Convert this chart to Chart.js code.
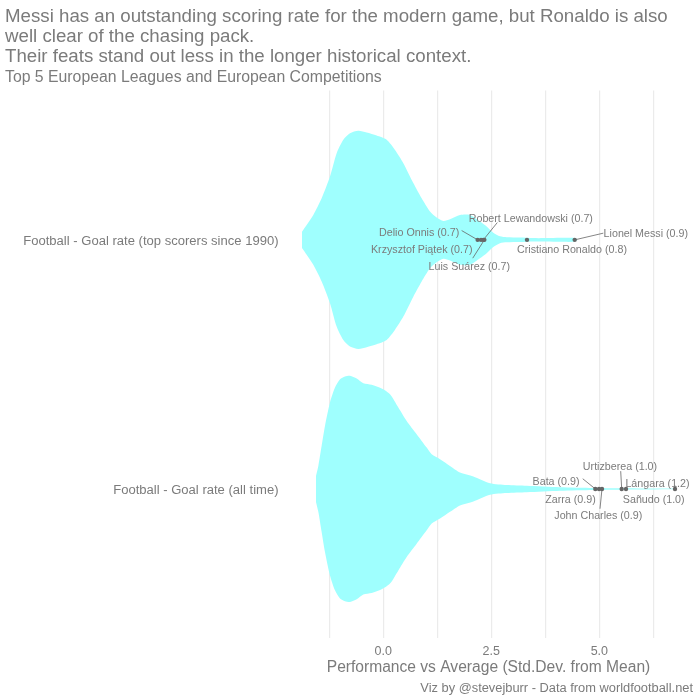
<!doctype html>
<html lang="en">

<head>
  <meta charset="utf-8">
  <title>Messi and Ronaldo goal rate</title>
  <style>
    * {
      margin: 0;
      padding: 0;
    }

    body {
      background: #fff;
    }

    canvas {
      display: block;
    }
  </style>
</head>

<body>
  <canvas id="myChart" width="700" height="700" style="width:700px;height:700px"></canvas>

  <script src="https://cdn.jsdelivr.net/npm/chart.js"></script>

  <script>
    const titleLines = [
      'Messi has an outstanding scoring rate for the modern game, but Ronaldo is also',
      'well clear of the chasing pack.',
      'Their feats stand out less in the longer historical context.'
    ];
    const subtitleText = 'Top 5 European Leagues and European Competitions';
    const xAxisTitle = 'Performance vs Average (Std.Dev. from Mean)';
    const captionText = 'Viz by @stevejburr - Data from worldfootball.net';

    const categories = ['Football - Goal rate (all time)', 'Football - Goal rate (top scorers since 1990)'];
    const gridValues = [-1.25, 0, 1.25, 2.5, 3.75, 5, 6.25];
    const tickValues = [0, 2.5, 5];

    // violin outlines: std.dev. from mean and half width of the density
    const recentX = [-1.882, -1.774, -1.62, -1.427, -1.234, -1.08, -0.925, -0.771, -0.578, -0.385, -0.154, 0.078, 0.271,
      0.464, 0.695, 0.888, 1.081, 1.235, 1.39, 1.544, 1.775, 2.007, 2.238, 2.393, 2.547, 2.701, 2.856, 3.164, 3.473,
      3.782, 4.09, 4.399, 4.491];
    const recentWidth = [0.033, 0.06, 0.1, 0.167, 0.254, 0.348, 0.402, 0.428, 0.438, 0.431, 0.419, 0.402, 0.361,
      0.308, 0.228, 0.167, 0.114, 0.09, 0.076, 0.083, 0.1, 0.1, 0.074, 0.054, 0.029, 0.014, 0.01, 0.009, 0.007,
      0.007, 0.008, 0.008, 0.003];
    const allTimeX = [-1.558, -1.504, -1.427, -1.35, -1.234, -1.118, -1.002, -0.887, -0.771, -0.616, -0.462, -0.269,
      -0.038, 0.155, 0.348, 0.541, 0.772, 1.004, 1.12, 1.313, 1.544, 1.775, 2.084, 2.47, 2.856, 3.319, 4.09, 4.861,
      5.479, 6.752];
    const allTimeWidth = [0.052, 0.092, 0.173, 0.253, 0.347, 0.407, 0.44, 0.451, 0.454, 0.443, 0.424, 0.418, 0.403,
      0.38, 0.327, 0.273, 0.22, 0.166, 0.139, 0.119, 0.092, 0.066, 0.05, 0.023, 0.016, 0.013, 0.007, 0.004, 0.003,
      0.0015];

    // highlighted players
    const recentNames = ['Delio Onnis (0.7)', 'Krzysztof Piątek (0.7)', 'Robert Lewandowski (0.7)', 'Luis Suárez (0.7)',
      'Cristiano Ronaldo (0.8)', 'Lionel Messi (0.9)'];
    const recentPlayers = [2.184, 2.262, 2.315, 2.339, 3.326, 4.43];
    const allTimeNames = ['Bata (0.9)', 'Zarra (0.9)', 'John Charles (0.9)', 'Urtizberea (1.0)', 'Sañudo (1.0)', 'Lángara (1.2)'];
    const allTimePlayers = [4.908, 4.993, 5.062, 5.518, 5.618, 6.752];

    // repelled label layout, pixels from the player's dot: [label dx, label dy, segment dx, segment dy]
    const recentLayout = [
      [-58.5, -6.7, -16, -9.3],
      [-59.3, 10.3, null, null],
      [47.5, -20.7, 14, -17.3],
      [-15.1, 27, -11.6, 18.3],
      [45, 10.3, null, null],
      [71.1, -5.7, 28.6, -6.7]
    ];
    const allTimeLayout = [
      [-39.3, -6.5, -12.6, -10.2],
      [-28.5, 10.8, null, null],
      [-3.7, 26.8, -2, 19.8],
      [-1.7, -22.2, -1, -17.8],
      [27.7, 10.8, null, null],
      [-17.5, -5.2, 0, -3.5]
    ];

    const FONT = '"Liberation Sans", Arial, sans-serif';
    const GREY = '#7b7b7b';
    const DOT = '#666666';
    const VIOLIN = '#9ffffe';

    function edge(xs, widths, centre, sign) {
      return xs.map((x, i) => ({ x: x, y: centre + sign * widths[i] }));
    }

    function violin(xs, widths, centre) {
      const base = { showLine: true, pointRadius: 0, borderWidth: 0, backgroundColor: VIOLIN, tension: 0.25 };
      return [
        { ...base, data: edge(xs, widths, centre, 1), fill: '+1' },
        { ...base, data: edge(xs, widths, centre, -1), fill: false }
      ];
    }

    function dots(xs, centre) {
      return {
        data: xs.map(x => ({ x: x, y: centre })),
        pointRadius: 2.2,
        pointBackgroundColor: DOT,
        pointBorderWidth: 0,
        showLine: false
      };
    }

    const repelLabels = {
      id: 'repelLabels',
      afterDatasetsDraw(chart) {
        const { ctx, scales: { x, y } } = chart;
        const groups = [
          [recentNames, recentPlayers, recentLayout, 2],
          [allTimeNames, allTimePlayers, allTimeLayout, 1]
        ];
        ctx.save();
        groups.forEach(([names, xs, layout, centre]) => {
          names.forEach((name, i) => {
            const px = x.getPixelForValue(xs[i]);
            const py = y.getPixelForValue(centre);
            const [dx, dy, sx, sy] = layout[i];
            if (sx !== null) {
              ctx.strokeStyle = DOT;
              ctx.lineWidth = 0.8;
              ctx.beginPath();
              ctx.moveTo(px, py);
              ctx.lineTo(px + sx, py + sy);
              ctx.stroke();
            }
            ctx.font = '10.7px ' + FONT;
            ctx.fillStyle = GREY;
            ctx.textAlign = 'center';
            ctx.textBaseline = 'middle';
            ctx.fillText(name, px + dx, py + dy);
          });
        });
        ctx.font = '12.85px ' + FONT;
        ctx.fillStyle = GREY;
        ctx.textAlign = 'right';
        ctx.textBaseline = 'middle';
        ctx.fillText(captionText, 693, 688);
        ctx.restore();
      }
    };

    const config = {
      type: 'scatter',
      data: {
        datasets: [
          dots(recentPlayers, 2),
          dots(allTimePlayers, 1),
          ...violin(recentX, recentWidth, 2),
          ...violin(allTimeX, allTimeWidth, 1)
        ]
      },
      plugins: [repelLabels],
      options: {
        responsive: false,
        animation: false,
        devicePixelRatio: 1,
        layout: { padding: { left: 5, right: 6.5, top: 7, bottom: 0 } },
        plugins: {
          legend: { display: false },
          tooltip: { enabled: false },
          title: {
            display: true,
            text: titleLines,
            align: 'start',
            color: GREY,
            font: { family: FONT, size: 18.7, weight: 'normal', lineHeight: 1.07 },
            padding: { top: 0, bottom: 2 }
          },
          subtitle: {
            display: true,
            text: subtitleText,
            align: 'start',
            color: GREY,
            font: { family: FONT, size: 15.8, weight: 'normal', lineHeight: 1.1 },
            padding: { top: 0, bottom: 4 }
          }
        },
        scales: {
          x: {
            type: 'linear',
            min: -2.31,
            max: 7.18,
            afterBuildTicks: s => { s.ticks = gridValues.map(v => ({ value: v })); },
            afterFit: s => { s.height = 61.6; },
            grid: { color: '#ebebeb', lineWidth: 1.2, drawTicks: false },
            border: { display: false },
            ticks: {
              autoSkip: false,
              maxRotation: 0,
              padding: 6,
              color: GREY,
              font: { family: FONT, size: 12.5 },
              callback: v => tickValues.includes(v) ? v.toFixed(1) : ''
            },
            title: {
              display: true,
              text: xAxisTitle,
              color: GREY,
              font: { family: FONT, size: 15.6, weight: 'normal' },
              padding: { top: 0, bottom: 23 }
            }
          },
          y: {
            type: 'linear',
            min: 0.4,
            max: 2.6,
            afterBuildTicks: s => { s.ticks = [1, 2].map(v => ({ value: v })); },
            afterFit: s => { s.width = 278.5; },
            grid: { display: false, drawTicks: false },
            border: { display: false },
            ticks: {
              autoSkip: false,
              padding: 5,
              labelOffset: 1.5,
              color: GREY,
              font: { family: FONT, size: 13.05 },
              callback: v => categories[v - 1]
            }
          }
        }
      }
    };

    const myChart = new Chart(document.getElementById('myChart'), config);
  </script>
</body>

</html>
